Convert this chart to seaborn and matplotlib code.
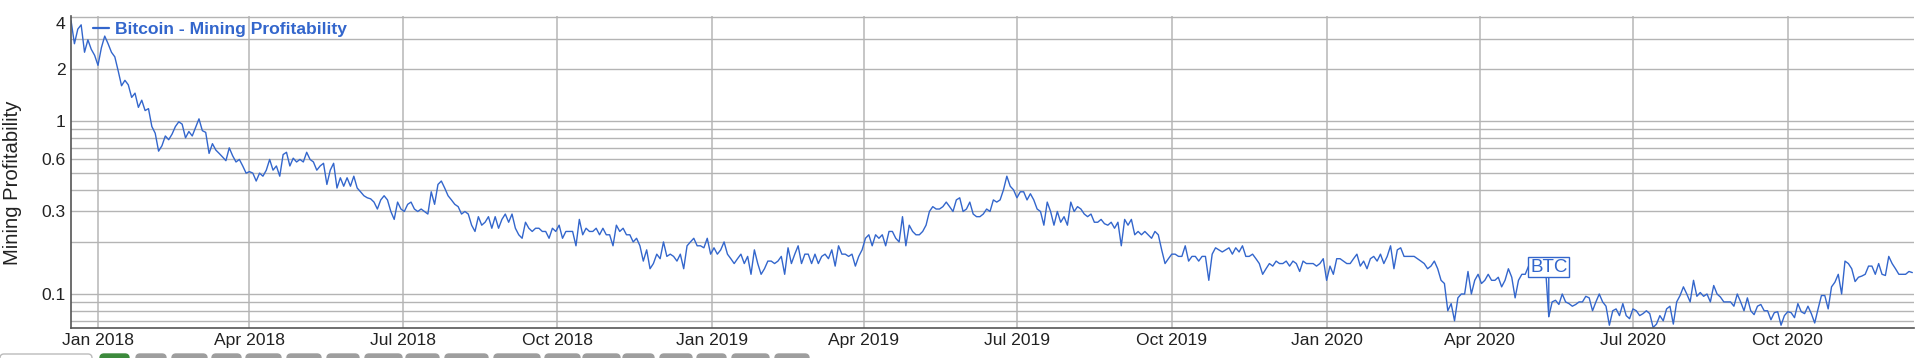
import numpy as np
import pandas as pd
import matplotlib
matplotlib.use('Agg')
import matplotlib.pyplot as plt
import matplotlib.dates as mdates
from matplotlib.patches import FancyBboxPatch
from matplotlib.transforms import IdentityTransform
import seaborn as sns

# one reading every 2nd day, starting 16 Dec 2017
start_date = '2017-12-16'
step = '2D'

prof_dec17_jun18 = [
    3.8, 2.8, 3.4, 3.6, 2.5, 2.95, 2.6, 2.4, 2.1, 2.65,
    3.1, 2.8, 2.5, 2.35, 1.95, 1.6, 1.72, 1.62, 1.37, 1.45,
    1.2, 1.32, 1.15, 1.18, 0.93, 0.85, 0.67, 0.72, 0.82, 0.78,
    0.84, 0.93, 0.99, 0.96, 0.8, 0.87, 0.82, 0.92, 1.03, 0.88,
    0.86, 0.65, 0.74, 0.68, 0.65, 0.62, 0.59, 0.7, 0.63, 0.58,
    0.6, 0.55, 0.5, 0.51, 0.5, 0.45, 0.5, 0.48, 0.52, 0.6,
    0.52, 0.55, 0.48, 0.64, 0.66, 0.55, 0.61, 0.58, 0.6, 0.58,
    0.66, 0.6, 0.58, 0.52, 0.55, 0.57, 0.43, 0.52, 0.57, 0.41,
    0.47, 0.42, 0.47, 0.42, 0.48, 0.41, 0.39, 0.37, 0.36, 0.355,
    0.34, 0.31]
prof_jun18_dec18 = [
    0.35, 0.37, 0.35, 0.30, 0.27, 0.34, 0.31, 0.30, 0.33, 0.34,
    0.31, 0.30, 0.31, 0.30, 0.29, 0.39, 0.33, 0.43, 0.45, 0.41,
    0.37, 0.35, 0.33, 0.32, 0.29, 0.30, 0.29, 0.25, 0.23, 0.28,
    0.25, 0.26, 0.28, 0.24, 0.28, 0.24, 0.27, 0.29, 0.26, 0.29,
    0.24, 0.22, 0.21, 0.26, 0.24, 0.23, 0.24, 0.24, 0.23, 0.23,
    0.21, 0.24, 0.23, 0.25, 0.21, 0.23, 0.23, 0.23, 0.19, 0.27,
    0.22, 0.24, 0.23, 0.23, 0.24, 0.22, 0.24, 0.22, 0.22, 0.19,
    0.25, 0.23, 0.24, 0.22, 0.22, 0.20, 0.21, 0.19, 0.155, 0.18,
    0.14, 0.15, 0.17, 0.16, 0.20, 0.165, 0.17, 0.165, 0.155, 0.17,
    0.14, 0.19]
prof_dec18_jun19 = [
    0.2, 0.21, 0.19, 0.19, 0.185, 0.21, 0.17, 0.185, 0.17, 0.18,
    0.2, 0.17, 0.16, 0.15, 0.16, 0.17, 0.15, 0.165, 0.13, 0.18,
    0.15, 0.13, 0.14, 0.155, 0.155, 0.15, 0.155, 0.165, 0.13, 0.185,
    0.15, 0.17, 0.19, 0.15, 0.17, 0.17, 0.15, 0.17, 0.15, 0.165,
    0.17, 0.16, 0.18, 0.145, 0.19, 0.17, 0.17, 0.165, 0.17, 0.145,
    0.165, 0.18, 0.21, 0.22, 0.19, 0.22, 0.21, 0.22, 0.19, 0.23,
    0.23, 0.21, 0.2, 0.28, 0.19, 0.25, 0.23, 0.22, 0.22, 0.23,
    0.25, 0.3, 0.32, 0.31, 0.31, 0.32, 0.34, 0.32, 0.3, 0.35,
    0.36, 0.3, 0.31, 0.34, 0.29, 0.28, 0.28, 0.29, 0.31, 0.3,
    0.35, 0.34]
prof_jun19_dec19 = [
    0.35, 0.4, 0.48, 0.42, 0.4, 0.36, 0.39, 0.39, 0.35, 0.38,
    0.35, 0.31, 0.3, 0.25, 0.34, 0.3, 0.25, 0.3, 0.26, 0.28,
    0.25, 0.34, 0.3, 0.32, 0.31, 0.29, 0.28, 0.29, 0.26, 0.26,
    0.27, 0.255, 0.25, 0.26, 0.24, 0.26, 0.19, 0.27, 0.25, 0.27,
    0.22, 0.23, 0.22, 0.23, 0.22, 0.21, 0.23, 0.22, 0.18, 0.15,
    0.16, 0.17, 0.17, 0.165, 0.165, 0.19, 0.155, 0.165, 0.165, 0.155,
    0.165, 0.165, 0.12, 0.17, 0.185, 0.18, 0.175, 0.18, 0.185, 0.17,
    0.185, 0.175, 0.19, 0.165, 0.165, 0.17, 0.16, 0.15, 0.13, 0.14,
    0.15, 0.145, 0.155, 0.15, 0.15, 0.155, 0.145, 0.155, 0.15, 0.135,
    0.155, 0.15]
prof_dec19_jun20 = [
    0.15, 0.15, 0.145, 0.15, 0.16, 0.12, 0.145, 0.13, 0.16, 0.16,
    0.155, 0.15, 0.15, 0.16, 0.17, 0.145, 0.155, 0.14, 0.16, 0.165,
    0.155, 0.17, 0.15, 0.165, 0.19, 0.14, 0.18, 0.185, 0.165, 0.165,
    0.165, 0.165, 0.16, 0.155, 0.15, 0.14, 0.145, 0.155, 0.14, 0.12,
    0.115, 0.08, 0.088, 0.07, 0.095, 0.1, 0.1, 0.135, 0.1, 0.12,
    0.13, 0.115, 0.12, 0.13, 0.12, 0.12, 0.125, 0.11, 0.12, 0.14,
    0.125, 0.095, 0.12, 0.13, 0.13, 0.145, 0.145, 0.14, 0.145, 0.14,
    0.145, 0.074, 0.09, 0.092, 0.087, 0.1, 0.09, 0.088, 0.085, 0.087,
    0.09, 0.09, 0.097, 0.095, 0.08, 0.09, 0.1, 0.09, 0.085, 0.066,
    0.08, 0.082]
prof_jun20_dec20 = [
    0.075, 0.088, 0.075, 0.072, 0.082, 0.08, 0.075, 0.077, 0.08, 0.077,
    0.064, 0.067, 0.075, 0.07, 0.082, 0.085, 0.067, 0.09, 0.098, 0.11,
    0.1, 0.09, 0.12, 0.097, 0.102, 0.097, 0.1, 0.09, 0.112, 0.1,
    0.096, 0.09, 0.09, 0.09, 0.085, 0.1, 0.09, 0.08, 0.095, 0.08,
    0.076, 0.085, 0.087, 0.08, 0.08, 0.071, 0.078, 0.079, 0.066, 0.075,
    0.079, 0.078, 0.073, 0.088, 0.079, 0.077, 0.085, 0.077, 0.068, 0.082,
    0.098, 0.098, 0.082, 0.11, 0.117, 0.13, 0.1, 0.155, 0.15, 0.14,
    0.118, 0.125, 0.127, 0.13, 0.145, 0.145, 0.13, 0.15, 0.13, 0.128,
    0.165, 0.15, 0.14, 0.13, 0.13, 0.13, 0.135, 0.133]

legend_label = 'Bitcoin - Mining Profitability'
y_label = 'Mining Profitability'
ytick_vals = [4, 2, 1, 0.6, 0.3, 0.1]
ytick_labels = ['4', '2', '1', '0.6', '0.3', '0.1']
ygrid_minor = [3, 0.9, 0.8, 0.7, 0.5, 0.4, 0.2, 0.09, 0.08, 0.07]
annot_text = 'BTC'
annot_date = '2020-05-12'

profit = np.concatenate([prof_dec17_jun18, prof_jun18_dec18, prof_dec18_jun19,
                         prof_jun19_dec19, prof_dec19_jun20, prof_jun20_dec20])
dates = pd.date_range(start_date, periods=len(profit), freq=step)
df = pd.DataFrame({'date': dates, 'profit': profit})

sns.set_style('white')
plt.rcParams['font.family'] = ['Liberation Sans', 'DejaVu Sans']

BLUE = '#3366CC'
TXT = '#222222'

fig = plt.figure(figsize=(19.2, 3.58), dpi=100)
ax = fig.add_axes([70.5 / 1920, 30 / 358, 1843.5 / 1920, 312 / 358])

sns.lineplot(data=df, x='date', y='profit', ax=ax, color=BLUE, lw=1.0,
             label=legend_label)

ax.set_yscale('log')
ax.set_ylim(0.0636, 4.05)
ax.set_xlim(pd.Timestamp('2017-12-15 16:00'), pd.Timestamp('2020-12-15'))

ax.set_yticks(ytick_vals, ytick_labels)
ax.set_yticks(ygrid_minor, minor=True)
ax.yaxis.set_minor_formatter(plt.NullFormatter())
ax.xaxis.set_major_locator(mdates.MonthLocator(bymonth=[1, 4, 7, 10]))
ax.xaxis.set_major_formatter(mdates.DateFormatter('%b %Y'))
ax.xaxis.set_minor_locator(plt.NullLocator())

ax.grid(True, which='both', axis='y', color='#b4b4b4', lw=1.0)
ax.grid(True, which='major', axis='x', color='#c2c2c2', lw=1.3)
ax.tick_params(which='both', length=0, labelsize=12.6, colors=TXT)
ax.tick_params(axis='x', pad=3.5)
ax.tick_params(axis='y', which='major', pad=3.6)
for lbl in ax.get_yticklabels():
    if lbl.get_text() == '4':
        lbl.set_verticalalignment('top')

for s in ['top', 'right']:
    ax.spines[s].set_visible(False)
for s in ['left', 'bottom']:
    ax.spines[s].set_color('#555555')
    ax.spines[s].set_linewidth(1.2)

ax.set_xlabel('')
ax.set_ylabel(y_label, fontsize=14.6, color=TXT)
ax.yaxis.set_label_coords(-0.0263, 0.465)

leg = ax.legend(loc='center left', bbox_to_anchor=(0.0122, 0.958), frameon=False,
                borderpad=0, borderaxespad=0, handlelength=0.9, handletextpad=0.35,
                prop={'weight': 'bold', 'size': 12.6}, labelcolor=BLUE)
leg.get_lines()[0].set_linewidth(1.6)

# halving marker
hidx = int(np.argmin(np.abs(dates - pd.Timestamp(annot_date))))
ax.annotate(annot_text, xy=(mdates.date2num(dates[hidx]), profit[hidx]),
            xytext=(0, 41), textcoords='offset pixels', ha='center', va='bottom',
            fontsize=13.5, color=BLUE, zorder=6,
            bbox=dict(boxstyle='square,pad=0.1', fc='white', ec=BLUE, lw=1),
            arrowprops=dict(arrowstyle='-', color=BLUE, lw=1, shrinkA=0, shrinkB=0))

# range-selector buttons peeking in at the bottom edge
pill_spans = [(0, 92), (100, 129), (136, 166), (172, 207), (212, 241), (246, 281),
              (287, 321), (327, 359), (365, 402), (406, 439), (445, 488), (494, 540),
              (545, 580), (583, 620), (623, 654), (660, 692), (697, 726), (732, 769),
              (775, 809)]
for i, (x0, x1) in enumerate(pill_spans):
    if i == 0:
        fc, ec = 'white', '#bbbbbb'
    elif i == 1:
        fc, ec = '#3c8a3c', '#3c8a3c'
    else:
        fc, ec = '#9e9e9e', '#9e9e9e'
    fig.add_artist(FancyBboxPatch((x0, -12), x1 - x0, 16,
                                  boxstyle='round,pad=0,rounding_size=4',
                                  fc=fc, ec=ec, lw=1, transform=IdentityTransform()))

fig.savefig('out.png', dpi=100)
